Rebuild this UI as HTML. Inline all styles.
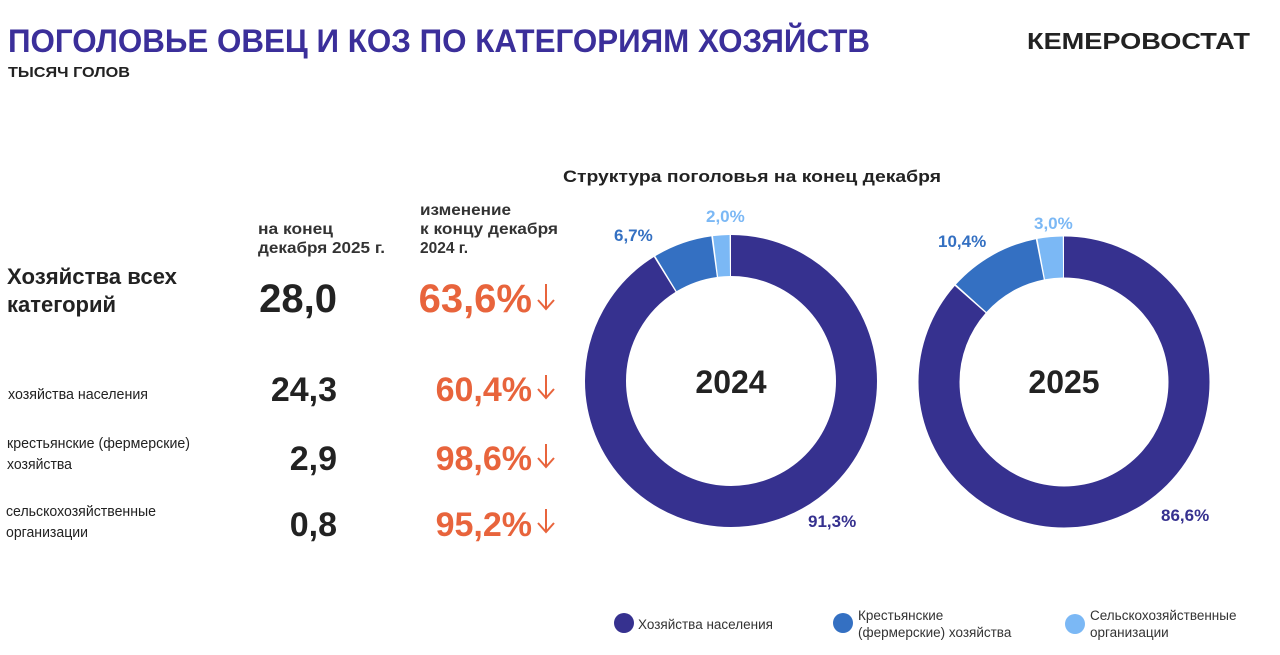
<!DOCTYPE html>
<html><head><meta charset="utf-8"><style>
html,body{margin:0;padding:0;background:#fff;width:1280px;height:655px;overflow:hidden}
svg{display:block;font-family:"Liberation Sans","Noto Sans CJK SC",sans-serif}
</style></head><body>
<svg width="1280" height="655" viewBox="0 0 1280 655">
<text x="8" y="52" font-size="32" font-weight="bold" fill="#3b2f9a" textLength="862" lengthAdjust="spacingAndGlyphs">ПОГОЛОВЬЕ ОВЕЦ И КОЗ ПО КАТЕГОРИЯМ ХОЗЯЙСТВ</text>
<text x="1027" y="49" font-size="23" font-weight="bold" fill="#222" textLength="223" lengthAdjust="spacingAndGlyphs">КЕМЕРОВОСТАТ</text>
<text x="8" y="77" font-size="15" font-weight="bold" fill="#222" textLength="122" lengthAdjust="spacingAndGlyphs">ТЫСЯЧ ГОЛОВ</text>

<text x="752" y="182" font-size="17" font-weight="bold" fill="#222" text-anchor="middle" textLength="378" lengthAdjust="spacingAndGlyphs">Структура поголовья на конец декабря</text>

<g font-size="16" font-weight="bold" fill="#333">
<text x="258" y="234" textLength="75" lengthAdjust="spacingAndGlyphs">на конец</text>
<text x="258" y="253" textLength="127" lengthAdjust="spacingAndGlyphs">декабря 2025 г.</text>
<text x="420" y="215" textLength="91" lengthAdjust="spacingAndGlyphs">изменение</text>
<text x="420" y="234" textLength="138" lengthAdjust="spacingAndGlyphs">к концу декабря</text>
<text x="420" y="253" textLength="48" lengthAdjust="spacingAndGlyphs">2024 г.</text>
</g>
<g font-size="22" font-weight="bold" fill="#222">
<text x="7" y="284" textLength="170" lengthAdjust="spacingAndGlyphs">Хозяйства всех</text>
<text x="7" y="312" textLength="109" lengthAdjust="spacingAndGlyphs">категорий</text>
</g>
<g font-size="15" fill="#222">
<text x="8" y="399" textLength="140" lengthAdjust="spacingAndGlyphs">хозяйства населения</text>
<text x="7" y="448" textLength="183" lengthAdjust="spacingAndGlyphs">крестьянские (фермерские)</text>
<text x="7" y="469" textLength="65" lengthAdjust="spacingAndGlyphs">хозяйства</text>
<text x="6" y="516" textLength="150" lengthAdjust="spacingAndGlyphs">сельскохозяйственные</text>
<text x="6" y="537" textLength="82" lengthAdjust="spacingAndGlyphs">организации</text>
</g>
<g font-weight="bold" fill="#222" text-anchor="end">
<text x="337" y="312" font-size="40">28,0</text>
<text x="337" y="401" font-size="34">24,3</text>
<text x="337" y="470" font-size="34">2,9</text>
<text x="337" y="536" font-size="34">0,8</text>
</g>
<g font-weight="bold" fill="#e8643c" text-anchor="end">
<text x="532" y="312" font-size="40">63,6%</text>
<text x="532" y="401" font-size="34">60,4%</text>
<text x="532" y="470" font-size="34">98,6%</text>
<text x="532" y="536" font-size="34">95,2%</text>
</g>
<g fill="none" stroke="#e8643c" stroke-width="2">
<path d="M546 284V309M538 300L546 309L554 300"/>
<path d="M546 375V398M538 389L546 398L554 389"/>
<path d="M546 444V467M538 458L546 467L554 458"/>
<path d="M546 509V532M538 523L546 532L554 523"/>
</g>

<g fill="none" stroke-width="41">
<g transform="rotate(-90 731 381)">
<circle cx="731" cy="381" r="125.5" stroke="#36318f" stroke-dasharray="718.4 800"/>
<circle cx="731" cy="381" r="125.5" stroke="#3470c2" stroke-dasharray="51.3 800" stroke-dashoffset="-719.9"/>
<circle cx="731" cy="381" r="125.5" stroke="#7bb8f5" stroke-dasharray="14.3 800" stroke-dashoffset="-772.7"/>
</g>
<g transform="rotate(-90 1064 382)">
<circle cx="1064" cy="382" r="125" stroke="#36318f" stroke-dasharray="679 800"/>
<circle cx="1064" cy="382" r="125" stroke="#3470c2" stroke-dasharray="80.2 800" stroke-dashoffset="-680.5"/>
<circle cx="1064" cy="382" r="125" stroke="#7bb8f5" stroke-dasharray="21.8 800" stroke-dashoffset="-762.2"/>
</g>
</g>
<g font-weight="bold" text-anchor="middle" fill="#222" font-size="32">
<text x="731" y="393">2024</text>
<text x="1064" y="393">2025</text>
</g>
<g font-weight="bold" font-size="17">
<text x="614" y="241" fill="#3470c2">6,7%</text>
<text x="706" y="222" fill="#7bb8f5">2,0%</text>
<text x="808" y="527" fill="#36318f">91,3%</text>
<text x="938" y="247" fill="#3470c2">10,4%</text>
<text x="1034" y="229" fill="#7bb8f5">3,0%</text>
<text x="1161" y="521" fill="#36318f">86,6%</text>
</g>

<circle cx="624" cy="623" r="10" fill="#36318f"/>
<circle cx="843" cy="623" r="10" fill="#3470c2"/>
<circle cx="1075" cy="624" r="10" fill="#7bb8f5"/>
<g font-size="13.5" fill="#333">
<text x="638" y="629">Хозяйства населения</text>
<text x="858" y="620">Крестьянские</text>
<text x="858" y="637">(фермерские) хозяйства</text>
<text x="1090" y="620">Сельскохозяйственные</text>
<text x="1090" y="637">организации</text>
</g>
</svg>
</body></html>
